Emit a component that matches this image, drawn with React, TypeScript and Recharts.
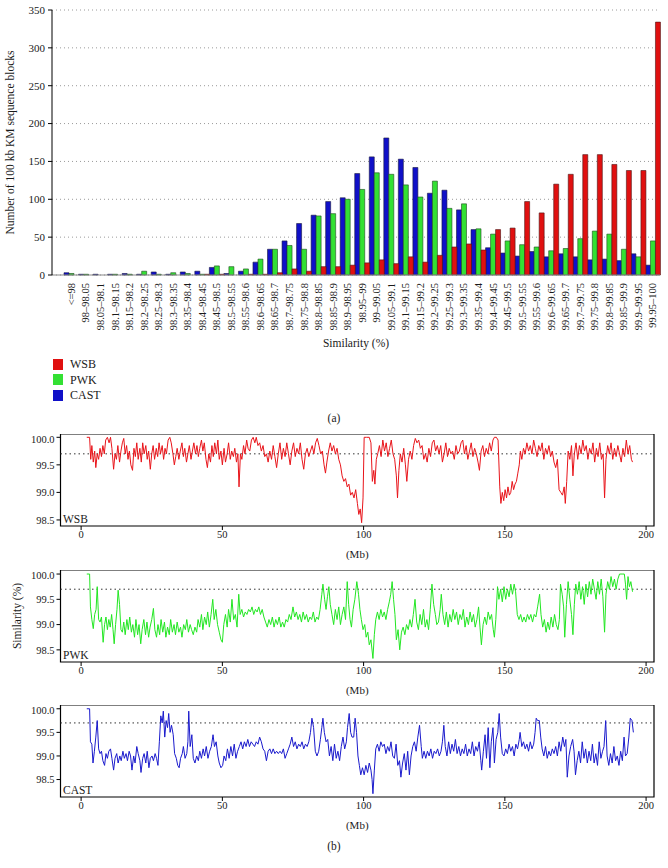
import {
  Bar,
  Line,
  XAxis,
  YAxis,
  BarChart,
  LineChart,
  CartesianGrid,
  ReferenceArea,
  ReferenceLine,
} from "recharts";

// similarity bins (tick labels of panel a)
const bins = [
  "<=98", "98–98.05", "98.05–98.1", "98.1–98.15", "98.15–98.2", "98.2–98.25",
  "98.25–98.3", "98.3–98.35", "98.35–98.4", "98.4–98.45", "98.45–98.5",
  "98.5–98.55", "98.55–98.6", "98.6–98.65", "98.65–98.7", "98.7–98.75",
  "98.75–98.8", "98.8–98.85", "98.85–98.9", "98.9–98.95", "98.95–99",
  "99–99.05", "99.05–99.1", "99.1–99.15", "99.15–99.2", "99.2–99.25",
  "99.25–99.3", "99.3–99.35", "99.35–99.4", "99.4–99.45", "99.45–99.5",
  "99.5–99.55", "99.55–99.6", "99.6–99.65", "99.65–99.7", "99.7–99.75",
  "99.75–99.8", "99.8–99.85", "99.85–99.9", "99.9–99.95", "99.95–100",
];

const wsbCounts = [
  0, 0, 0, 0, 0, 0, 0, 0, 0, 1, 1, 0, 1, 1, 3, 8, 5, 11, 11, 13, 16, 20, 15,
  24, 17, 26, 37, 41, 33, 60, 62, 97, 82, 120, 133, 159, 159, 146, 138, 138, 334,
];
const pwkCounts = [
  2, 1, 0, 1, 1, 5, 1, 3, 2, 1, 12, 11, 8, 21, 34, 39, 34, 78, 81, 100, 113,
  135, 133, 119, 103, 124, 88, 94, 61, 54, 45, 40, 37, 32, 35, 48, 58, 54, 34, 24, 45,
];
const castCounts = [
  3, 1, 1, 1, 2, 1, 4, 1, 4, 5, 10, 2, 5, 17, 34, 45, 68, 79, 97, 102, 134,
  156, 181, 153, 142, 108, 112, 86, 60, 36, 29, 25, 31, 24, 28, 24, 20, 21, 19, 28, 13,
];

const countTicks = [0, 50, 100, 150, 200, 250, 300, 350];

// panel b: [position (Mb), similarity (%)]
const wsbTrack: [number, number][] = [
  [2, 100], [3, 100], [3.4, 99.6], [3.8, 99.85], [4.3, 99.55], [4.8, 99.75], [5.2, 99.45],
  [5.7, 99.7], [6.2, 99.6], [6.7, 99.8], [7.2, 99.65], [7.7, 99.85], [8.2, 99.7], [8.7, 99.95],
  [9.3, 100], [9.9, 99.9], [10.4, 100], [10.9, 99.8], [11.5, 99.42], [12, 99.7], [12.5, 99.6],
  [13, 99.85], [13.6, 99.55], [14.1, 99.75], [14.6, 99.9], [15.1, 99.98], [15.6, 99.7],
  [16.1, 99.85], [16.6, 99.6], [17.1, 99.75], [17.6, 99.5], [18.2, 99.4], [18.7, 99.8],
  [19.2, 99.65], [19.7, 99.9], [20.2, 99.6], [20.8, 99.8], [21.3, 99.55], [21.8, 99.9],
  [22.3, 99.7], [22.9, 99.85], [23.4, 99.6], [23.9, 99.75], [24.5, 99.42], [25, 99.7],
  [25.5, 99.85], [26, 99.6], [26.6, 99.8], [27.1, 99.65], [27.6, 99.9], [28.1, 99.7],
  [28.7, 99.85], [29.2, 99.6], [29.7, 99.8], [30.2, 99.7], [30.8, 99.95], [31.4, 100],
  [31.9, 99.9], [32.5, 99.7], [33, 99.5], [33.5, 99.65], [34, 99.8], [34.6, 99.6],
  [35.1, 99.75], [35.7, 99.9], [36.2, 99.65], [36.7, 99.8], [37.3, 99.55], [37.8, 99.7],
  [38.3, 99.85], [38.9, 99.6], [39.4, 99.75], [39.9, 99.9], [40.5, 99.7], [41, 99.85],
  [41.5, 99.65], [42, 99.8], [42.6, 99.95], [43.1, 99.75], [43.6, 99.9], [44.2, 99.6],
  [44.7, 99.45], [45.2, 99.7], [45.8, 99.55], [46.3, 99.85], [46.8, 99.65], [47.3, 99.9],
  [47.9, 99.7], [48.4, 99.95], [48.9, 99.6], [49.5, 99.75], [50, 99.5], [50.6, 99.8],
  [51.1, 99.55], [51.7, 99.7], [52.2, 99.9], [52.8, 99.6], [53.3, 99.75], [53.9, 99.65],
  [54.4, 99.8], [55, 99.55], [55.5, 99.7], [55.9, 99.1], [56.4, 99.7], [56.9, 99.6],
  [57.5, 99.85], [58, 99.7], [58.6, 99.95], [59.1, 99.8], [59.7, 99.75], [60.3, 99.95],
  [60.9, 100], [61.5, 99.9], [62, 100], [62.6, 99.85], [63.2, 99.9], [63.8, 99.75],
  [64.4, 99.85], [65, 99.65], [65.6, 99.7], [66.2, 99.55], [66.8, 99.75], [67.4, 99.6],
  [68, 99.85], [68.6, 99.65], [69.2, 99.45], [69.8, 99.7], [70.4, 99.9], [71, 99.6],
  [71.6, 99.8], [72.2, 99.65], [72.8, 99.9], [73.4, 99.7], [74, 99.5], [74.6, 99.75],
  [75.2, 99.9], [75.8, 99.65], [76.4, 99.8], [77, 99.7], [77.6, 99.9], [78.2, 99.6],
  [78.8, 99.42], [79.4, 99.7], [80, 99.8], [80.6, 99.65], [81.2, 99.75], [81.8, 99.85],
  [82.4, 99.7], [83, 99.9], [83.6, 99.98], [84.2, 99.85], [84.8, 99.7], [85.4, 99.75],
  [86, 99.5], [86.5, 99.35], [87, 99.55], [87.6, 99.75], [88.2, 99.9], [88.8, 99.75],
  [89.4, 99.85], [90, 99.7], [90.6, 99.8], [91.2, 99.6], [91.8, 99.5], [92.4, 99.3],
  [93, 99.2], [93.6, 99.25], [94.2, 99.1], [94.8, 99.15], [95.4, 98.95], [96, 99.0],
  [96.6, 98.9], [97.2, 99.05], [97.8, 98.8], [98.3, 98.6], [98.8, 98.7], [99.3, 98.45],
  [99.8, 98.9], [100.2, 100], [101, 100], [102, 100], [102.6, 99.9], [103.1, 99.2],
  [103.6, 99.4], [104, 99.15], [104.5, 99.6], [105, 99.7], [105.6, 99.85], [106.2, 99.65],
  [106.8, 99.95], [107.4, 99.75], [108, 99.9], [108.6, 99.65], [109.2, 99.8], [109.8, 99.95],
  [110.4, 99.7], [111, 99.6], [111.6, 99.3], [112, 98.9], [112.5, 99.4], [113, 99.7],
  [113.6, 99.55], [114.2, 99.8], [114.8, 99.5], [115.3, 99.2], [115.9, 99.6], [116.5, 99.75],
  [117.1, 99.6], [117.7, 99.85], [118.3, 99.98], [118.9, 99.9], [119.5, 99.95], [120.1, 99.8],
  [120.7, 99.85], [121.3, 99.6], [121.9, 99.7], [122.5, 99.55], [123.1, 99.8], [123.7, 99.65],
  [124.3, 99.9], [124.9, 99.95], [125.5, 99.75], [126.1, 99.85], [126.7, 99.7], [127.3, 99.85],
  [127.9, 99.55], [128.5, 99.7], [129.1, 99.9], [129.7, 99.65], [130.3, 99.8], [130.9, 99.7],
  [131.5, 99.75], [132.1, 99.6], [132.7, 99.85], [133.3, 99.7], [133.9, 99.75], [134.5, 99.9],
  [135.1, 99.95], [135.7, 99.7], [136.3, 99.85], [136.9, 99.6], [137.5, 99.75], [138.1, 99.9],
  [138.7, 99.65], [139.3, 99.8], [139.9, 99.7], [140.5, 99.55], [141, 99.4], [141.6, 99.75],
  [142.2, 99.85], [142.8, 99.65], [143.4, 99.8], [144, 99.7], [144.6, 99.9], [145.2, 99.75],
  [145.8, 99.95], [146.3, 100], [147, 100], [147.6, 99.95], [148.2, 99.1], [148.6, 98.8],
  [149.1, 99.0], [149.6, 98.85], [150.1, 99.05], [150.6, 98.9], [151.1, 99.1], [151.6, 98.95],
  [152.1, 99.0], [152.6, 99.2], [153.1, 99.05], [153.6, 99.15], [154.1, 99.2], [154.6, 99.35],
  [155.1, 99.5], [155.5, 99.75], [156, 99.6], [156.6, 99.8], [157.2, 99.7], [157.8, 99.9],
  [158.4, 99.75], [159, 99.85], [159.6, 99.7], [160.2, 99.95], [160.8, 99.8], [161.4, 99.65],
  [162, 99.85], [162.6, 99.75], [163.2, 99.9], [163.8, 99.6], [164.4, 99.8], [165, 99.7],
  [165.6, 99.85], [166.2, 99.65], [166.8, 99.75], [167.4, 99.55], [168, 99.45], [168.6, 99.6],
  [169.2, 99.05], [169.8, 99.0], [170.4, 98.95], [171, 99.1], [171.4, 98.8], [171.9, 99.2],
  [172.4, 99.75], [173, 99.6], [173.6, 99.85], [174.1, 99.3], [174.6, 99.7], [175.2, 99.9],
  [175.8, 99.6], [176.4, 99.85], [177, 99.7], [177.6, 99.95], [178.2, 99.75], [178.8, 99.85],
  [179.4, 99.6], [180, 99.8], [180.6, 99.7], [181.2, 99.9], [181.8, 99.55], [182.4, 99.8],
  [183, 99.65], [183.6, 99.9], [184.2, 99.6], [184.8, 99.7], [185.3, 98.9], [185.8, 99.6],
  [186.4, 99.85], [187, 99.7], [187.6, 99.9], [188.2, 99.6], [188.8, 99.8], [189.4, 99.65],
  [190, 99.85], [190.6, 99.7], [191.2, 99.55], [191.8, 99.8], [192.4, 99.65], [193, 99.95],
  [193.6, 99.7], [194.2, 99.85], [194.8, 99.6], [195.2, 99.55],
];

const pwkTrack: [number, number][] = [
  [2, 100], [3, 100], [3.3, 99.35], [3.8, 99.1], [4.3, 98.92], [4.8, 99.2], [5.3, 99.3],
  [5.7, 99.75], [6.2, 99.1], [6.7, 99.05], [7.2, 99.15], [7.8, 98.65], [8.3, 99.0], [8.8, 99.15],
  [9.3, 98.9], [9.8, 99.1], [10.3, 98.95], [10.8, 99.2], [11.3, 98.9], [11.7, 98.62], [12.2, 99.0],
  [12.7, 99.3], [13.1, 99.68], [13.6, 99.4], [14.1, 98.9], [14.6, 98.85], [15.1, 99.05],
  [15.6, 98.8], [16.2, 99.1], [16.7, 98.9], [17.2, 99.15], [17.8, 98.85], [18.3, 99.0],
  [18.9, 98.75], [19.4, 99.1], [20, 98.8], [20.5, 99.0], [21.1, 98.62], [21.6, 98.9],
  [22.2, 99.1], [22.8, 98.8], [23.3, 99.05], [23.9, 98.75], [24.4, 98.95], [25, 99.1],
  [25.6, 99.32], [26.1, 98.9], [26.7, 98.75], [27.2, 99.0], [27.8, 98.8], [28.3, 99.1],
  [28.9, 98.85], [29.5, 99.05], [30, 98.75], [30.6, 98.95], [31.2, 98.8], [31.7, 99.1],
  [32.3, 98.85], [32.9, 99.0], [33.4, 98.8], [34, 99.05], [34.6, 98.85], [35.2, 98.95],
  [35.7, 98.75], [36.3, 99.0], [36.9, 98.9], [37.4, 99.1], [38, 98.85], [38.6, 99.0],
  [39.1, 98.9], [39.7, 98.8], [40.3, 98.95], [40.9, 98.85], [41.4, 99.1], [42, 98.95],
  [42.6, 99.2], [43.1, 98.9], [43.7, 99.15], [44.3, 99.0], [44.8, 99.25], [45.4, 98.95],
  [46, 99.2], [46.6, 99.5], [47.1, 99.1], [47.7, 99.3], [48.3, 99.0], [48.9, 98.85],
  [49.5, 98.7], [50, 98.65], [50.5, 99.0], [51.1, 99.2], [51.7, 98.95], [52.2, 99.3],
  [52.8, 99.05], [53.4, 99.5], [54, 99.1], [54.6, 99.2], [55.2, 98.95], [55.8, 99.6],
  [56.3, 99.2], [56.9, 99.3], [57.5, 99.15], [58.1, 99.25], [58.7, 99.2], [59.3, 99.3],
  [59.9, 99.25], [60.5, 99.35], [61.1, 99.2], [61.7, 99.3], [62.3, 99.25], [62.9, 99.35],
  [63.5, 99.2], [64.1, 99.3], [64.7, 99.15], [65.3, 99.05], [65.9, 98.95], [66.5, 99.1],
  [67.1, 99.0], [67.7, 99.15], [68.3, 98.95], [68.9, 99.1], [69.5, 99.0], [70.1, 99.15],
  [70.7, 98.95], [71.3, 99.05], [71.9, 98.95], [72.5, 99.1], [73.1, 99.05], [73.7, 99.2],
  [74.3, 99.1], [75, 99.35], [75.6, 99.15], [76.2, 99.25], [76.8, 99.1], [77.4, 99.2],
  [78, 99.05], [78.6, 99.25], [79.2, 99.1], [79.8, 99.2], [80.4, 99.05], [81, 99.15],
  [81.6, 99.1], [82.2, 99.25], [82.8, 99.05], [83.4, 99.15], [84, 99.1], [84.6, 99.3],
  [85.2, 99.6], [85.6, 99.8], [86.2, 99.5], [86.7, 99.3], [87.2, 99.55], [87.7, 99.75],
  [88.2, 99.4], [88.8, 99.2], [89.4, 99.0], [90, 99.3], [90.6, 99.1], [91.2, 99.35],
  [91.8, 99.0], [92.4, 99.2], [93, 99.35], [93.6, 99.1], [94.2, 99.85], [94.7, 99.4],
  [95.2, 99.1], [95.7, 98.95], [96.3, 99.3], [96.9, 99.5], [97.6, 99.85], [98.2, 99.6],
  [98.7, 99.3], [99.2, 99.1], [99.8, 98.9], [100.4, 99.0], [100.9, 98.75], [101.5, 98.85],
  [102, 98.6], [102.6, 98.7], [103.3, 98.33], [103.8, 98.8], [104.3, 99.1], [104.9, 99.25],
  [105.5, 99.1], [106.1, 99.3], [106.7, 99.15], [107.3, 99.25], [107.9, 99.1], [108.5, 99.3],
  [109.1, 99.45], [109.6, 99.6], [110.1, 99.85], [110.6, 99.5], [111.1, 99.2], [111.6, 98.7],
  [112.2, 98.9], [112.8, 98.5], [113.4, 98.85], [114, 98.95], [114.6, 98.8], [115.2, 99.0],
  [115.8, 98.9], [116.4, 99.1], [117, 98.95], [117.6, 99.2], [118.2, 99.5], [118.8, 99.05],
  [119.4, 98.9], [120, 99.2], [120.6, 99.0], [121.2, 99.3], [121.8, 98.95], [122.4, 99.1],
  [123, 98.9], [123.6, 99.3], [124.2, 99.8], [124.8, 99.4], [125.4, 99.2], [125.9, 99.0],
  [126.5, 99.05], [127.1, 99.3], [127.5, 99.6], [128.1, 99.2], [128.7, 99.0], [129.3, 99.25],
  [129.9, 98.95], [130.5, 99.2], [131.1, 99.05], [131.7, 99.3], [132.3, 99.1], [132.9, 99.25],
  [133.5, 99.0], [134.1, 99.2], [134.7, 99.1], [135.3, 99.3], [135.9, 98.95], [136.5, 99.15],
  [137.1, 99.0], [137.7, 99.25], [138.3, 99.05], [138.9, 99.2], [139.5, 98.95], [140.1, 99.1],
  [140.7, 99.35], [141.2, 98.95], [141.7, 98.6], [142.3, 99.0], [142.9, 99.15], [143.5, 99.0],
  [144.1, 99.25], [144.7, 99.1], [145.3, 99.2], [145.9, 98.9], [146.3, 98.75], [146.8, 99.1],
  [147.4, 99.75], [147.9, 99.5], [148.5, 99.7], [149.1, 99.45], [149.7, 99.75], [150.3, 99.5],
  [150.9, 99.7], [151.5, 99.55], [152.1, 99.8], [152.7, 99.6], [153.3, 99.8], [153.8, 99.65],
  [154.4, 99.2], [155, 99.1], [155.6, 99.2], [156.2, 99.05], [156.8, 99.15], [157.4, 99.05],
  [158, 99.2], [158.6, 99.1], [159.2, 99.2], [159.8, 99.05], [160.4, 99.2], [161, 99.15],
  [161.6, 99.35], [162.3, 99.6], [162.8, 99.2], [163.4, 98.95], [164, 99.1], [164.6, 98.85],
  [165.2, 99.05], [165.8, 98.9], [166.4, 99.15], [167, 98.95], [167.6, 99.2], [168.2, 99.0],
  [168.8, 98.9], [169.3, 99.1], [169.7, 99.8], [170.3, 99.6], [170.8, 99.35], [171.2, 98.75],
  [171.8, 99.4], [172.4, 99.85], [173, 99.5], [173.6, 99.2], [174.1, 98.8], [174.6, 99.4],
  [175.1, 99.8], [175.7, 99.6], [176.3, 99.85], [176.9, 99.5], [177.5, 99.75], [178.1, 99.4],
  [178.7, 99.8], [179.3, 99.55], [179.9, 99.85], [180.5, 99.6], [181.1, 99.9], [181.7, 99.7],
  [182.3, 99.5], [182.9, 99.85], [183.5, 99.6], [184.1, 99.9], [184.7, 99.55], [185.3, 98.85],
  [185.8, 99.6], [186.4, 99.85], [187, 99.7], [187.6, 99.95], [188.2, 99.75], [188.8, 99.9],
  [189.4, 99.7], [190, 99.9], [190.6, 100], [191.5, 100], [192.3, 100], [192.7, 99.8],
  [193.1, 99.5], [193.6, 99.95], [194.1, 99.75], [194.6, 99.85], [195.2, 99.65],
];

const castTrack: [number, number][] = [
  [2, 100], [3, 100], [3.3, 99.3], [3.8, 99.25], [4.2, 98.85], [4.7, 99.1], [5.2, 99.4],
  [5.7, 99.75], [6.2, 99.15], [6.7, 99.05], [7.2, 99.1], [7.7, 98.9], [8.3, 98.8], [8.8, 99.05],
  [9.3, 98.95], [9.8, 99.1], [10.4, 99.15], [10.9, 98.95], [11.5, 98.7], [12, 98.95],
  [12.6, 99.05], [13.1, 98.85], [13.7, 99.0], [14.2, 98.9], [14.8, 99.1], [15.3, 98.95],
  [15.9, 99.05], [16.4, 98.9], [17, 99.1], [17.5, 99.0], [18, 98.7], [18.6, 99.0],
  [19.1, 98.85], [19.7, 99.2], [20.2, 99.05], [20.8, 98.9], [21.2, 98.65], [21.8, 98.95],
  [22.3, 99.05], [22.9, 98.85], [23.4, 99.1], [24, 98.75], [24.5, 98.95], [25.1, 99.0],
  [25.6, 98.9], [26.2, 99.05], [26.7, 98.95], [27.2, 98.8], [27.7, 99.3], [28.2, 99.85],
  [28.7, 99.7], [29.1, 99.95], [29.6, 99.4], [30.1, 99.75], [30.6, 99.6], [31, 99.9],
  [31.5, 99.5], [32, 99.65], [32.6, 99.45], [33.1, 99.05], [33.7, 98.95], [34.2, 98.8],
  [34.7, 98.75], [35.2, 98.95], [35.8, 99.05], [36.2, 99.2], [36.8, 98.95], [37.4, 99.05],
  [37.8, 99.3], [38.1, 99.95], [38.6, 99.2], [39.2, 99.45], [39.7, 98.95], [40.3, 98.85],
  [40.9, 99.0], [41.5, 98.9], [42, 99.1], [42.6, 98.95], [43.2, 99.15], [43.7, 99.0],
  [44.3, 99.2], [44.9, 98.95], [45.5, 99.1], [46.1, 99.2], [46.7, 99.45], [47.2, 99.2],
  [47.8, 99.3], [48.4, 99.0], [48.9, 98.85], [49.5, 98.75], [50.1, 98.8], [50.6, 99.0],
  [51.2, 98.9], [51.8, 99.15], [52.4, 98.95], [53, 99.2], [53.6, 99.0], [54.2, 99.25],
  [54.8, 98.95], [55.4, 99.1], [56, 99.2], [56.6, 99.3], [57.2, 99.15], [57.8, 99.3],
  [58.4, 99.2], [59, 99.35], [59.6, 99.2], [60.2, 99.3], [60.8, 99.25], [61.4, 99.2],
  [62, 99.3], [62.6, 99.25], [63.2, 99.4], [63.8, 99.3], [64.4, 99.15], [65, 99.1],
  [65.6, 98.9], [66.2, 99.1], [66.8, 99.15], [67.4, 99.05], [68, 99.15], [68.6, 99.05],
  [69.2, 99.1], [69.8, 99.05], [70.4, 99.1], [71, 99.05], [71.6, 99.15], [72.2, 98.95],
  [72.8, 99.05], [73.4, 99.15], [74, 99.25], [74.6, 99.4], [75.2, 99.2], [75.8, 99.3],
  [76.4, 99.15], [77, 99.25], [77.6, 99.2], [78.2, 99.3], [78.8, 99.15], [79.4, 99.25],
  [80, 99.2], [80.6, 99.3], [81.2, 99.5], [81.7, 99.8], [82.3, 99.6], [82.9, 99.1],
  [83.5, 99.0], [84.1, 99.1], [84.7, 99.35], [85.2, 99.6], [85.6, 99.8], [86.1, 99.5],
  [86.7, 99.3], [87.3, 99.35], [87.9, 99.0], [88.5, 99.2], [89.1, 98.9], [89.7, 99.25],
  [90.3, 98.95], [90.9, 99.1], [91.5, 98.9], [92.1, 99.2], [92.7, 99.4], [93.3, 99.15],
  [93.9, 99.3], [94.3, 99.6], [94.9, 99.9], [95.4, 99.5], [95.9, 99.4], [96.5, 99.4],
  [97, 99.8], [97.5, 99.5], [98, 99.0], [98.5, 98.8], [99, 98.6], [99.6, 98.75],
  [100.2, 98.6], [100.8, 98.8], [101.4, 98.65], [102, 98.85], [102.6, 98.7], [103, 98.5],
  [103.3, 98.2], [103.8, 98.7], [104.3, 99.15], [104.9, 99.25], [105.5, 99.1], [106.1, 99.3],
  [106.7, 99.2], [107.3, 99.25], [107.9, 99.05], [108.5, 99.2], [109.1, 99.1], [109.7, 99.3],
  [110.3, 99.0], [110.9, 98.95], [111.5, 99.25], [112.1, 98.8], [112.7, 98.9], [113.2, 98.55],
  [113.8, 98.85], [114.4, 99.05], [115, 98.7], [115.6, 99.1], [116.2, 98.6], [116.8, 99.0],
  [117.4, 99.2], [118, 99.3], [118.6, 99.1], [119.2, 99.4], [119.8, 99.65], [120.4, 99.2],
  [120.8, 98.95], [121.4, 99.1], [122, 98.95], [122.6, 99.1], [123.2, 99.0], [123.8, 99.15],
  [124.4, 98.95], [125, 99.1], [125.6, 99.05], [126.2, 99.15], [126.8, 99.0], [127.4, 99.1],
  [127.9, 99.3], [128.4, 99.65], [128.9, 99.2], [129.5, 99.0], [130.1, 99.3], [130.7, 99.05],
  [131.3, 99.25], [131.9, 99.1], [132.5, 99.35], [133.1, 99.05], [133.7, 99.2], [134.3, 99.0],
  [134.9, 99.15], [135.5, 99.05], [136.1, 99.25], [136.7, 99.0], [137.3, 99.15], [137.9, 99.05],
  [138.5, 99.3], [139.1, 99.0], [139.7, 99.2], [140.3, 99.1], [140.9, 99.3], [141.5, 98.9],
  [141.8, 98.7], [142.4, 99.1], [143, 99.45], [143.5, 98.95], [144.1, 99.6], [144.7, 98.75],
  [145.2, 99.3], [145.8, 99.6], [146.3, 98.85], [146.9, 99.35], [147.5, 99.5], [148, 99.9],
  [148.5, 99.4], [149.1, 99.05], [149.7, 99.0], [150.3, 99.15], [150.9, 99.05], [151.5, 99.25],
  [152.1, 99.1], [152.7, 99.2], [153.3, 99.0], [153.9, 99.25], [154.5, 99.15], [155.1, 99.35],
  [155.4, 99.5], [156, 99.2], [156.6, 99.3], [157.2, 99.15], [157.8, 99.25], [158.4, 99.1],
  [159, 99.3], [159.6, 99.15], [160.2, 99.25], [160.7, 99.5], [161.1, 99.8], [161.6, 99.75],
  [162.2, 99.75], [162.7, 99.4], [163.2, 99.15], [163.8, 99.0], [164.4, 99.2], [165, 98.95],
  [165.6, 99.1], [166.2, 99.0], [166.8, 99.15], [167.4, 99.05], [168, 99.2], [168.6, 99.0],
  [169.2, 99.3], [169.8, 99.1], [170.5, 99.4], [171.1, 99.2], [171.6, 99.35], [172.1, 98.55],
  [172.7, 99.0], [173.3, 99.2], [174, 99.35], [174.5, 99.1], [175, 98.6], [175.6, 98.9],
  [176.2, 99.1], [176.8, 98.85], [177.4, 99.3], [178, 98.95], [178.6, 99.15], [179.2, 98.85],
  [179.8, 99.1], [180.4, 98.9], [181, 99.25], [181.6, 98.85], [182.2, 99.05], [182.8, 98.8],
  [183.4, 99.3], [184, 98.95], [184.6, 99.1], [185.1, 99.2], [185.7, 99.75], [186.2, 99.0],
  [186.8, 98.8], [187.4, 99.05], [188, 98.85], [188.6, 99.2], [189.2, 98.9], [189.8, 99.0],
  [190.4, 98.8], [191, 99.1], [191.6, 98.9], [192.2, 99.4], [192.7, 99.0], [193.3, 99.05],
  [193.9, 99.4], [194.4, 99.8], [195, 99.75], [195.5, 99.5],
];

const mbDomain = [-7.3, 202.8];
const mbTicks = [0, 50, 100, 150, 200];
const simTicks = [98.5, 99, 99.5, 100];
const cutoff = 99.7;

const SERIF = "'Liberation Serif', 'Times New Roman', Times, serif";
const INK = "#1a1a1a";

const barData = bins.map((bin, i) => ({
  bin,
  wsb: wsbCounts[i],
  pwk: pwkCounts[i],
  cast: castCounts[i],
}));

const toRows = (track: [number, number][]) =>
  track.map(([mb, sim]) => ({ mb, sim }));

const BinTick = ({ x, y, payload }: any) => (
  <text
    x={x}
    y={y}
    transform={`rotate(-90 ${x} ${y})`}
    textAnchor="end"
    dy="0.35em"
    fontSize={10.5}
    fontFamily={SERIF}
    fill={INK}
  >
    {payload.value}
  </text>
);

const legendItems = [
  { name: "WSB", color: "#e01010" },
  { name: "PWK", color: "#33e033" },
  { name: "CAST", color: "#1010c8" },
];

function TrackPanel({
  rows,
  color,
  domain,
  top,
  name,
  yLabel,
}: {
  rows: { mb: number; sim: number }[];
  color: string;
  domain: number[];
  top: number;
  name: string;
  yLabel?: string;
}) {
  const axisText = { fontSize: 10.5, fill: INK, fontFamily: SERIF };
  return (
    <div style={{ position: "absolute", left: 0, top }}>
      <LineChart
        width={668}
        height={126}
        data={rows}
        margin={{ top: 0, right: 14, left: 0, bottom: 0 }}
      >
        <XAxis
          type="number"
          dataKey="mb"
          domain={mbDomain}
          ticks={mbTicks}
          allowDataOverflow
          height={34}
          tickSize={4}
          tickMargin={1}
          axisLine={false}
          tickLine={{ stroke: "#000" }}
          tick={axisText}
          label={{
            value: "(Mb)",
            position: "insideBottom",
            offset: 2,
            fontSize: 11,
            fill: INK,
            fontFamily: SERIF,
          }}
        />
        <YAxis
          type="number"
          domain={domain}
          ticks={simTicks}
          allowDataOverflow
          tickFormatter={(v: number) => v.toFixed(1)}
          width={60.5}
          tickSize={4}
          tickMargin={2}
          axisLine={false}
          tickLine={{ stroke: "#000" }}
          tick={axisText}
        />
        <ReferenceLine
          y={cutoff}
          stroke="#333"
          strokeDasharray="1.5 3"
          strokeWidth={1}
        />
        <Line
          dataKey="sim"
          stroke={color}
          strokeWidth={1}
          dot={false}
          isAnimationActive={false}
        />
        <ReferenceArea
          x1={mbDomain[0]}
          x2={mbDomain[1]}
          y1={domain[0]}
          y2={domain[1]}
          fill="none"
          stroke="#000"
          strokeWidth={1.2}
        />
      </LineChart>
      <div
        style={{
          position: "absolute",
          left: 63,
          top: 79,
          fontFamily: SERIF,
          fontSize: 11.5,
          color: INK,
          lineHeight: "12px",
        }}
      >
        {name}
      </div>
      {yLabel && (
        <div
          style={{
            position: "absolute",
            left: 17,
            top: 46,
            transform: "translate(-50%, -50%) rotate(-90deg)",
            whiteSpace: "nowrap",
            fontFamily: SERIF,
            fontSize: 11.5,
            color: INK,
          }}
        >
          {yLabel}
        </div>
      )}
    </div>
  );
}

export default function App() {
  return (
    <div
      style={{
        position: "relative",
        width: 668,
        height: 868,
        background: "#fff",
        overflow: "hidden",
        fontFamily: SERIF,
      }}
    >
      <style>{"body{margin:0}"}</style>

      <div style={{ position: "absolute", left: 0, top: 0 }}>
        <BarChart
          width={668}
          height={350}
          data={barData}
          margin={{ top: 10, right: 8, left: 0, bottom: 0 }}
          barCategoryGap={0}
          barGap={0}
        >
          <CartesianGrid vertical={false} stroke="#9a9a9a" strokeDasharray="1 3" />
          <XAxis
            dataKey="bin"
            interval={0}
            height={75}
            padding={{ left: 12, right: 0 }}
            tick={<BinTick />}
            tickLine={false}
            axisLine={{ stroke: "#8a8a8a", strokeWidth: 1.2 }}
            label={{
              value: "Similarity (%)",
              position: "insideBottom",
              offset: 3,
              fontSize: 11.5,
              fill: INK,
              fontFamily: SERIF,
            }}
          />
          <YAxis
            domain={[0, 350]}
            ticks={countTicks}
            width={52}
            tickSize={4}
            tickMargin={3}
            axisLine={{ stroke: "#000" }}
            tickLine={{ stroke: "#000" }}
            tick={{ fontSize: 11, fill: INK, fontFamily: SERIF }}
            label={{
              value: "Number of 100 kb KM sequence blocks",
              angle: -90,
              position: "insideLeft",
              offset: 10,
              fontSize: 11.5,
              fill: INK,
              fontFamily: SERIF,
              style: { textAnchor: "middle" },
            }}
          />
          <Bar dataKey="cast" fill="#1010c8" stroke="#1a1a40" strokeWidth={0.6} isAnimationActive={false} />
          <Bar dataKey="pwk" fill="#33e033" stroke="#1f4a1f" strokeWidth={0.6} isAnimationActive={false} />
          <Bar dataKey="wsb" fill="#e01010" stroke="#4a1515" strokeWidth={0.6} isAnimationActive={false} />
        </BarChart>
      </div>

      {legendItems.map((item, i) => (
        <div
          key={item.name}
          style={{
            position: "absolute",
            left: 53,
            top: 358 + i * 15.5,
            display: "flex",
            alignItems: "center",
            fontFamily: SERIF,
            fontSize: 12,
            color: INK,
            lineHeight: "12px",
          }}
        >
          <span
            style={{
              display: "inline-block",
              width: 10,
              height: 11,
              background: item.color,
              marginRight: 7,
            }}
          />
          {item.name}
        </div>
      ))}

      <div
        style={{
          position: "absolute",
          left: 334,
          top: 418,
          transform: "translate(-50%, -50%)",
          fontFamily: SERIF,
          fontSize: 11.5,
          color: INK,
        }}
      >
        (a)
      </div>

      <TrackPanel
        rows={toRows(wsbTrack)}
        color="#e8141a"
        domain={[98.39, 100.06]}
        top={434}
        name="WSB"
      />
      <TrackPanel
        rows={toRows(pwkTrack)}
        color="#22e622"
        domain={[98.26, 100.08]}
        top={570}
        name="PWK"
        yLabel="Similarity (%)"
      />
      <TrackPanel
        rows={toRows(castTrack)}
        color="#1a1acc"
        domain={[98.13, 100.08]}
        top={705}
        name="CAST"
      />

      <div
        style={{
          position: "absolute",
          left: 334,
          top: 846,
          transform: "translate(-50%, -50%)",
          fontFamily: SERIF,
          fontSize: 11.5,
          color: INK,
        }}
      >
        (b)
      </div>
    </div>
  );
}
